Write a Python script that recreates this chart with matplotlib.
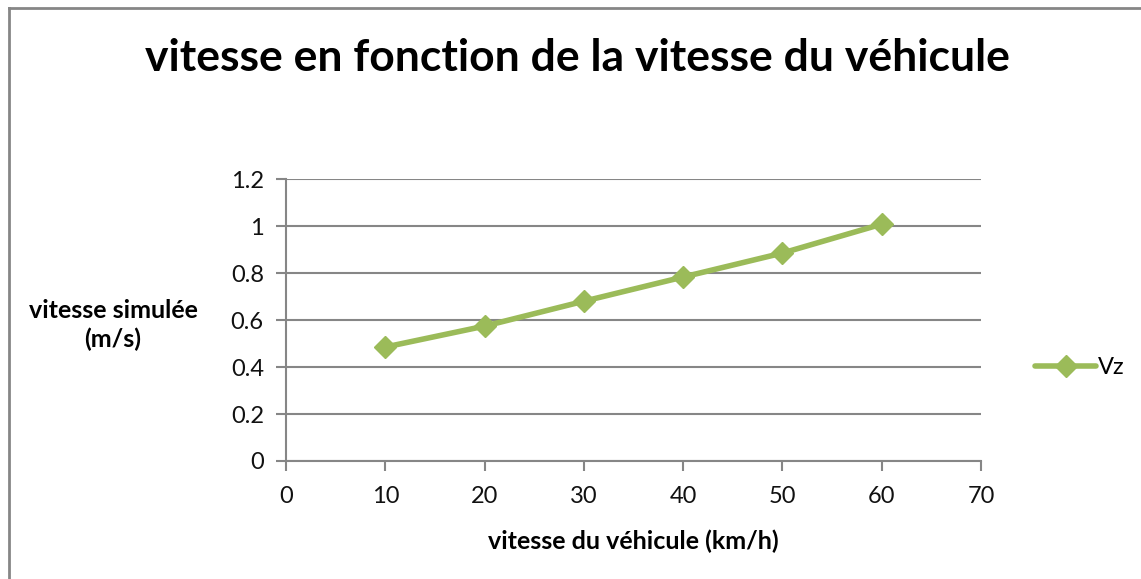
import matplotlib
matplotlib.use("Agg")
import matplotlib.pyplot as plt
from matplotlib.lines import Line2D

# vitesse du vehicule (km/h) et vitesse simulee Vz (m/s)
vitesse_vehicule = [10, 20, 30, 40, 50, 60]
vz = [0.485, 0.574, 0.680, 0.783, 0.885, 1.008]

x_ticks = [0, 10, 20, 30, 40, 50, 60, 70]
y_ticks = [0, 0.2, 0.4, 0.6, 0.8, 1.0, 1.2]
y_tick_labels = ["0", "0.2", "0.4", "0.6", "0.8", "1", "1.2"]

vert = "#9BBB59"
gris = "#868686"

plt.rcParams['font.family'] = ['Lato', 'DejaVu Sans']

fig = plt.figure(figsize=(11.41, 5.79), dpi=100)
ax = fig.add_axes([0.2507, 0.2038, 0.6091, 0.4870])

ax.plot(vitesse_vehicule, vz, color=vert, lw=4, marker="D", ms=11,
        solid_capstyle="round", label="Vz")

ax.set_xlim(0, 70)
ax.set_ylim(0, 1.2)
ax.set_xticks(x_ticks)
ax.set_yticks(y_ticks)
ax.set_yticklabels(y_tick_labels)
ax.grid(axis="y", color=gris, lw=1.5)
ax.set_axisbelow(True)

for s in ["top", "right"]:
    ax.spines[s].set_visible(False)
for s in ["left", "bottom"]:
    ax.spines[s].set_color(gris)
    ax.spines[s].set_linewidth(1.5)
ax.tick_params(axis="both", colors=gris, width=1.5, length=7, labelsize=17,
               labelcolor="#111111")
ax.tick_params(axis="x", pad=11)
ax.tick_params(axis="y", pad=9)

ax.set_xlabel("vitesse du véhicule (km/h)", fontsize=18, fontweight="bold",
              labelpad=16)
fig.text(0.099, 0.439, "vitesse simulée\n(m/s)", ha="center", va="center",
         fontsize=18, fontweight="bold", linespacing=1.3)

fig.text(0.506, 0.9, "vitesse en fonction de la vitesse du véhicule",
         ha="center", va="center", fontsize=32, fontweight="bold")

leg = ax.legend(loc="center left", bbox_to_anchor=(1.047, 0.33), frameon=False,
                fontsize=17, handlelength=2.6, handletextpad=0.05)

# cadre du graphique
fig.add_artist(Line2D([0.008, 0.008], [0, 0.986], color=gris, lw=2))
fig.add_artist(Line2D([0.008, 1.0], [0.986, 0.986], color=gris, lw=2))

fig.savefig("out.png", dpi=100)
